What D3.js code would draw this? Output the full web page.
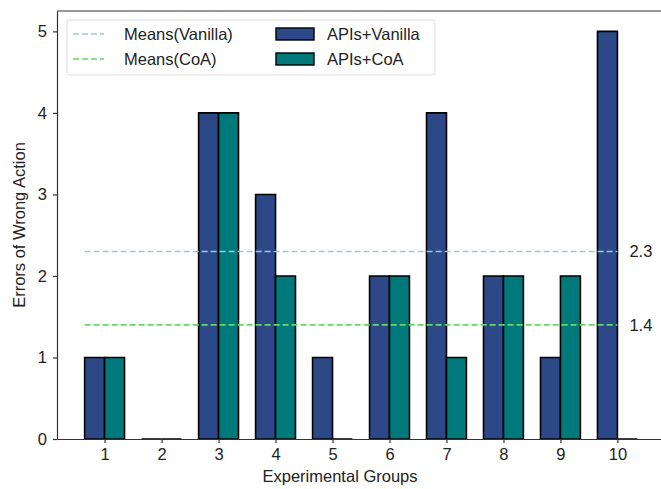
<!DOCTYPE html>
<html>
<head>
<meta charset="utf-8">
<script src="https://cdn.jsdelivr.net/npm/d3@7"></script>
<style>
  body { margin: 0; background: #fff; }
  svg { display: block; font-family: "Liberation Sans", Arial, sans-serif; }
</style>
</head>
<body>
<svg id="chart" width="661" height="489"></svg>
<script>

// Data
const groups   = [1, 2, 3, 4, 5, 6, 7, 8, 9, 10]
const vanilla  = [1, 0, 4, 3, 1, 2, 4, 2, 1, 5]
const coa      = [1, 0, 4, 2, 0, 2, 1, 2, 2, 0]
const yTicks   = [0, 1, 2, 3, 4, 5]

const meanVanilla = d3.mean(vanilla)
const meanCoa     = d3.mean(coa)

const colVanilla = "#2c4887",
      colCoa     = "#00797a",
      colMeanV   = "#98c8ea",
      colMeanC   = "#66d866"

const barW = 0.35
const fs = 16.5

let svg = d3.select("#chart")

const margin = { left: 57, top: 11, right: -4, bottom: 50 },
      width  = +svg.attr("width"),
      height = +svg.attr("height")

// matplotlib style limits: 5% padding round the bars
const x = d3.scaleLinear()
    .domain([0.165, 10.835])
    .range([margin.left, width - margin.right])

const y = d3.scaleLinear()
    .domain([0, 5.25])
    .range([height - margin.bottom, margin.top])

//
// Bars (paths, so zero bars still show their edge)
//

function drawBars(values, offset, color) {
  svg.append("g")
    .selectAll("path")
    .data(values)
    .enter().append("path")
      .attr("d", (d, i) => {
        const x0 = x(groups[i] + offset), x1 = x(groups[i] + offset + barW)
        return `M${x0},${y(0)}V${y(d)}H${x1}V${y(0)}Z`
      })
      .attr("fill", color)
      .attr("stroke", "#000")
      .attr("stroke-width", 1.6)
}

drawBars(vanilla, -barW, colVanilla)
drawBars(coa, 0, colCoa)

//
// Mean lines
//

const means = [
  { v: meanVanilla, color: colMeanV },
  { v: meanCoa, color: colMeanC }
]

svg.append("g")
  .selectAll("line")
  .data(means)
  .enter().append("line")
    .attr("x1", x(1 - barW))
    .attr("x2", x(10))
    .attr("y1", d => y(d.v))
    .attr("y2", d => y(d.v))
    .attr("stroke", d => d.color)
    .attr("stroke-width", 1.7)
    .attr("stroke-dasharray", "6,3")

svg.append("g")
  .selectAll("text")
  .data(means)
  .enter().append("text")
    .attr("x", x(10) + 12)
    .attr("y", d => y(d.v) + 6)
    .attr("font-size", fs)
    .attr("fill", "#222")
    .text(d => d.v.toFixed(1))

//
// Axes
//

const xAxis = svg.append("g")
    .attr("transform", `translate(0,${y(0)})`)
    .call(d3.axisBottom(x).tickValues(groups).tickFormat(d3.format("d"))
      .tickSize(4).tickSizeOuter(0).tickPadding(5))

const yAxis = svg.append("g")
    .attr("transform", `translate(${x.range()[0]},0)`)
    .call(d3.axisLeft(y).tickValues(yTicks).tickFormat(d3.format("d"))
      .tickSize(4).tickSizeOuter(0).tickPadding(6))

;[xAxis, yAxis].forEach(ax => {
  ax.selectAll("text").attr("font-size", fs).attr("fill", "#222")
    .attr("font-family", "Liberation Sans, Arial, sans-serif")
  ax.selectAll("line").attr("stroke", "#333").attr("stroke-width", 1.2)
  ax.select(".domain").attr("stroke", "#333").attr("stroke-width", 1.2)
})

// top spine (right one falls off the canvas)
svg.append("line")
    .attr("x1", x.range()[0]).attr("x2", width)
    .attr("y1", margin.top).attr("y2", margin.top)
    .attr("stroke", "#333").attr("stroke-width", 1.2)

svg.append("text")
    .attr("x", 340)
    .attr("y", 482)
    .attr("text-anchor", "middle")
    .attr("font-size", fs)
    .attr("fill", "#222")
    .text("Experimental Groups")

svg.append("text")
    .attr("transform", `translate(25,${(y(0) + y(5.25)) / 2}) rotate(-90)`)
    .attr("text-anchor", "middle")
    .attr("font-size", fs)
    .attr("fill", "#222")
    .text("Errors of Wrong Action")

//
// Legend
//

let legend = svg.append("g")

legend.append("rect")
    .attr("x", 67).attr("y", 20)
    .attr("width", 368).attr("height", 55)
    .attr("rx", 3)
    .attr("fill", "#fff")
    .attr("stroke", "#ddd")

const lineItems = [
  { label: "Means(Vanilla)", color: colMeanV },
  { label: "Means(CoA)", color: colMeanC }
]
const barItems = [
  { label: "APIs+Vanilla", color: colVanilla },
  { label: "APIs+CoA", color: colCoa }
]

lineItems.forEach((d, i) => {
  const cy = 34 + i * 25
  legend.append("line")
      .attr("x1", 73).attr("x2", 104)
      .attr("y1", cy).attr("y2", cy)
      .attr("stroke", d.color)
      .attr("stroke-width", 1.7)
      .attr("stroke-dasharray", "6,3")
  legend.append("text")
      .attr("x", 124).attr("y", cy + 6)
      .attr("font-size", fs).attr("fill", "#222")
      .text(d.label)
})

barItems.forEach((d, i) => {
  const cy = 34 + i * 25
  legend.append("rect")
      .attr("x", 276).attr("y", cy - 6)
      .attr("width", 38).attr("height", 12)
      .attr("fill", d.color)
      .attr("stroke", "#000")
      .attr("stroke-width", 1.4)
  legend.append("text")
      .attr("x", 327).attr("y", cy + 6)
      .attr("font-size", fs).attr("fill", "#222")
      .text(d.label)
})

</script>
</body>
</html>
